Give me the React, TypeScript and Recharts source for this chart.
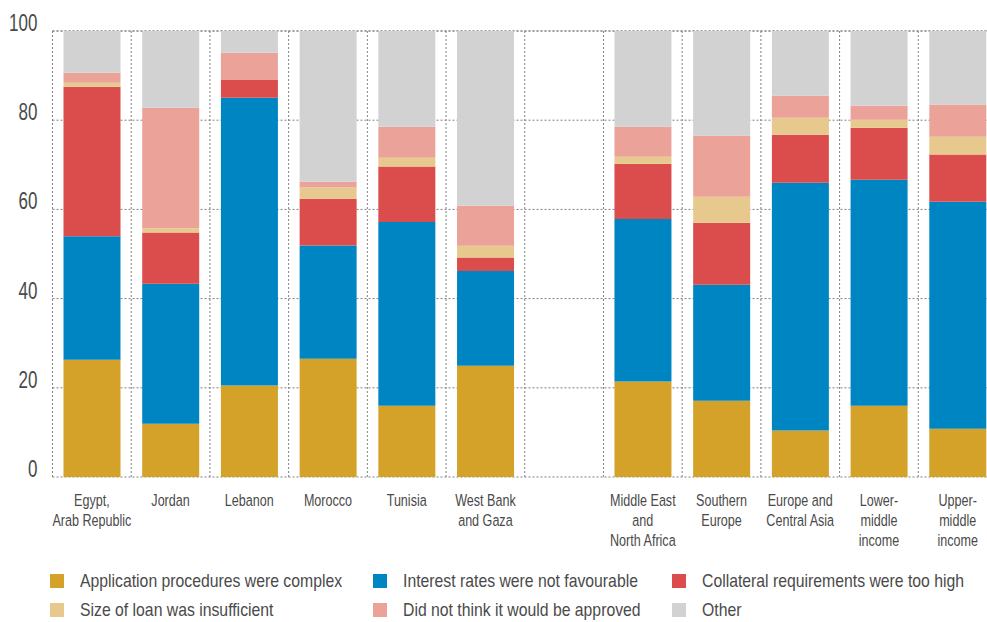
import { Bar, BarChart, CartesianGrid, XAxis, YAxis } from "recharts";

const categories = [
  "Egypt,\nArab Republic",
  "Jordan",
  "Lebanon",
  "Morocco",
  "Tunisia",
  "West Bank\nand Gaza",
  "",
  "Middle East\nand\nNorth Africa",
  "Southern\nEurope",
  "Europe and\nCentral Asia",
  "Lower-\nmiddle\nincome",
  "Upper-\nmiddle\nincome",
];

const application = [26.3, 11.95, 20.5, 26.5, 16.0, 24.95, null, 21.4, 17.1, 10.4, 16.0, 10.8];
const interest = [27.7, 31.4, 64.55, 25.4, 41.2, 21.25, null, 36.45, 26.0, 55.6, 50.65, 50.9];
const collateral = [33.5, 11.45, 3.95, 10.5, 12.4, 3.0, null, 12.4, 13.9, 10.75, 11.65, 10.6];
const loanSize = [0.9, 1.0, 0, 2.5, 2.0, 2.65, null, 1.55, 5.85, 3.8, 1.8, 4.0];
const notApproved = [2.25, 27.0, 6.1, 1.3, 6.95, 8.95, null, 6.75, 13.65, 4.95, 3.15, 7.2];
const other = [9.35, 17.2, 4.9, 33.8, 21.45, 39.2, null, 21.45, 23.5, 14.5, 16.75, 16.5];

const yTicks = [0, 20, 40, 60, 80, 100];

const series = [
  { key: "application", name: "Application procedures were complex", color: "#D4A129" },
  { key: "interest", name: "Interest rates were not favourable", color: "#0085C3" },
  { key: "collateral", name: "Collateral requirements were too high", color: "#DB4C4D" },
  { key: "loanSize", name: "Size of loan was insufficient", color: "#E8C98D" },
  { key: "notApproved", name: "Did not think it would be approved", color: "#EBA298" },
  { key: "other", name: "Other", color: "#D1D2D1" },
];

const data = categories.map((name, i) => ({
  name,
  slot: i,
  application: application[i],
  interest: interest[i],
  collateral: collateral[i],
  loanSize: loanSize[i],
  notApproved: notApproved[i],
  other: other[i],
}));

// no condensed font installed, so squeeze Liberation Sans horizontally
const FONT = '"Liberation Sans", Arial, sans-serif';
const TEXT = "#4a4a4a";

function CategoryTick(props: any) {
  const { x, y, payload } = props;
  const lines = String(payload.value).split("\n");
  return (
    <g transform={`translate(${x},${y + 21})`}>
      <text transform="scale(0.74,1)" textAnchor="middle" fill={TEXT} fontSize={17} fontFamily={FONT}>
        {lines.map((l, i) => (
          <tspan key={i} x={0} dy={i === 0 ? 0 : 20}>
            {l}
          </tspan>
        ))}
      </text>
    </g>
  );
}

function ValueTick(props: any) {
  const { x, y, payload } = props;
  return (
    <g transform={`translate(${x},${y})`}>
      <text transform="scale(0.74,1)" textAnchor="end" fill={TEXT} fontSize={23} fontFamily={FONT}>
        {payload.value}
      </text>
    </g>
  );
}

export default function App() {
  return (
    <div
      style={{
        position: "fixed",
        left: 0,
        top: 0,
        width: 987,
        height: 622,
        overflow: "hidden",
        background: "#fff",
      }}
    >
      <BarChart
        width={1000}
        height={560}
        data={data}
        margin={{ top: 31, right: 3, left: 0, bottom: 23 }}
      >
        <CartesianGrid xAxisId="slots" stroke="#808080" strokeDasharray="2 2" />
        <XAxis
          dataKey="name"
          axisLine={false}
          tickLine={false}
          interval={0}
          height={60}
          tick={<CategoryTick />}
        />
        <XAxis
          xAxisId="slots"
          dataKey="slot"
          type="number"
          domain={[0, 12]}
          ticks={[0, 1, 2, 3, 4, 5, 6, 7, 8, 9, 10, 11]}
          allowDataOverflow
          hide
        />
        <YAxis
          width={52.5}
          domain={[0, 100]}
          ticks={yTicks}
          axisLine={false}
          tickLine={false}
          tickSize={0}
          tickMargin={15}
          tick={<ValueTick />}
        />
        {series.map((s) => (
          <Bar
            key={s.key}
            dataKey={s.key}
            name={s.name}
            stackId="a"
            fill={s.color}
            barSize={57}
            isAnimationActive={false}
          />
        ))}
      </BarChart>
      <div
        style={{
          position: "absolute",
          left: 50,
          top: 566,
          display: "grid",
          gridTemplateColumns: "323px 299px 300px",
          gridAutoRows: "29px",
          fontFamily: FONT,
          fontSize: 19,
          color: TEXT,
        }}
      >
        {series.map((s) => (
          <div key={s.key} style={{ display: "flex", alignItems: "center", whiteSpace: "nowrap" }}>
            <span
              style={{ display: "inline-block", flexShrink: 0, width: 14, height: 14, background: s.color, marginRight: 16 }}
            />
            <span style={{ display: "inline-block", transform: "scaleX(0.83)", transformOrigin: "left center" }}>
              {s.name}
            </span>
          </div>
        ))}
      </div>
    </div>
  );
}
